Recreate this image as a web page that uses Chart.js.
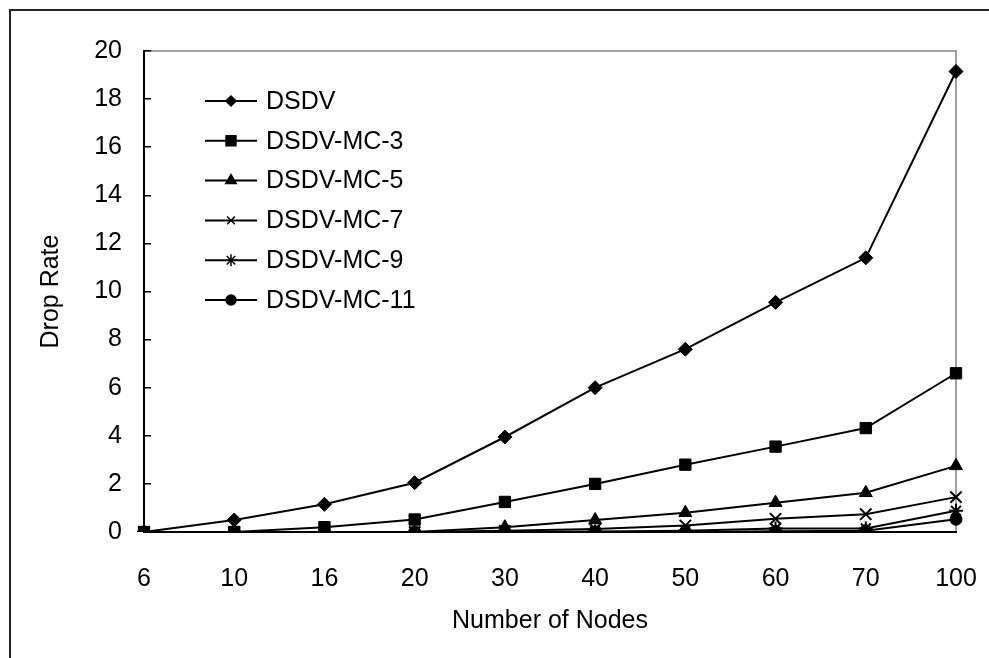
<!DOCTYPE html>
<html>
<head>
<meta charset="utf-8">
<script src="https://cdn.jsdelivr.net/npm/chart.js@4.4.0/dist/chart.umd.min.js"></script>
<style>
  html, body { margin: 0; padding: 0; background: #fff; overflow: hidden; }
  #rahmen { position: absolute; left: 9px; top: 9px; width: 2000px; height: 2000px; border-left: 2px solid #222; border-top: 2px solid #222; }
  #wrap { position: absolute; left: 0; top: 0; width: 989px; height: 658px; }
</style>
</head>
<body>
<div id="rahmen"></div>
<div id="wrap"><canvas id="grafiks"></canvas></div>
<script>
const mezgli = ['6', '10', '16', '20', '30', '40', '50', '60', '70', '100'];
const dsdv   = [0, 0.5, 1.15, 2.05, 3.95, 6.0, 7.6, 9.55, 11.4, 19.15];
const mc3    = [0, 0, 0.2, 0.52, 1.25, 2.0, 2.8, 3.55, 4.32, 6.6];
const mc5    = [0, 0, 0, 0, 0.2, 0.5, 0.8, 1.22, 1.63, 2.75];
const mc7    = [0, 0, 0, 0, 0.05, 0.12, 0.27, 0.55, 0.74, 1.45];
const mc9    = [0, 0, 0, 0, 0, 0.02, 0.05, 0.15, 0.15, 0.88];
const mc11   = [0, 0, 0, 0, 0, 0, 0, 0.03, 0.05, 0.53];
const yTicks = [0, 2, 4, 6, 8, 10, 12, 14, 16, 18, 20];

const nosaukumi = ['DSDV', 'DSDV-MC-3', 'DSDV-MC-5', 'DSDV-MC-7', 'DSDV-MC-9', 'DSDV-MC-11'];
const stili = ['rectRot', 'rect', 'triangle', 'crossRot', 'star', 'circle'];
const radiusi = [7, 8, 7.5, 8, 7, 6];
const legRadiusi = [5, 7, 6, 5.5, 6, 5];

Chart.defaults.font.family = '"Liberation Sans", Arial, sans-serif';
Chart.defaults.color = '#000';

// gray box around plot area (left/bottom get overdrawn by black axes)
const ramis = {
    id: 'ramis',
    beforeDraw(chart) {
        const {ctx, chartArea: a} = chart;
        ctx.save();
        ctx.strokeStyle = '#a0a0a0';
        ctx.lineWidth = 2;
        ctx.strokeRect(a.left, a.top, a.right - a.left, a.bottom - a.top);
        ctx.restore();
    }
};

// legend drawn inside the plot area, line + marker + text
const iekslegenda = {
    id: 'iekslegenda',
    afterDraw(chart) {
        const {ctx, chartArea: a} = chart;
        ctx.save();
        ctx.font = '25px "Liberation Sans", Arial, sans-serif';
        ctx.textBaseline = 'middle';
        chart.data.datasets.forEach((ds, i) => {
            const y = a.top + 50 + i * 39.8;
            const x0 = a.left + 61;
            ctx.strokeStyle = '#000';
            ctx.fillStyle = '#000';
            ctx.lineWidth = 2;
            ctx.beginPath(); ctx.moveTo(x0, y); ctx.lineTo(x0 + 52, y); ctx.stroke();
            ctx.lineWidth = 1.5;
            Chart.helpers.drawPoint(ctx, {pointStyle: ds.pointStyle, radius: legRadiusi[i], borderWidth: 1.5, rotation: 0}, x0 + 26, y);
            ctx.fillText(ds.label, x0 + 61, y + 1);
        });
        ctx.restore();
    }
};

const rindas = [dsdv, mc3, mc5, mc7, mc9, mc11];

new Chart(document.getElementById('grafiks').getContext('2d'), {
    type: 'line',
    data: {
        labels: mezgli,
        datasets: rindas.map((d, i) => ({
            label: nosaukumi[i],
            data: d,
            borderColor: '#000',
            backgroundColor: '#000',
            borderWidth: 2,
            pointStyle: stili[i],
            pointRadius: radiusi[i],
            pointBorderWidth: (stili[i] === 'crossRot' || stili[i] === 'star') ? 2 : 1,
            pointBackgroundColor: '#000',
            pointBorderColor: '#000',
            tension: 0
        }))
    },
    options: {
        responsive: true,
        maintainAspectRatio: false,
        animation: false,
        layout: {padding: {left: 10, top: 51, right: 33, bottom: 0}},
        plugins: {legend: {display: false}, tooltip: {enabled: false}},
        scales: {
            x: {
                grid: {display: true, drawOnChartArea: false, drawTicks: false},
                border: {color: '#000', width: 2},
                ticks: {padding: 32, font: {size: 25}, maxRotation: 0, autoSkip: false},
                title: {display: true, text: 'Number of Nodes', font: {size: 25}, padding: {top: 0, bottom: 22}},
                afterFit: s => { s.height = 126; s.paddingLeft = 0; s.paddingRight = 0; }
            },
            y: {
                min: 0, max: 20,
                afterBuildTicks: s => { s.ticks = yTicks.map(v => ({value: v})); },
                grid: {display: true, drawOnChartArea: false, drawTicks: true, tickLength: -7, color: '#000', lineWidth: 1.5},
                border: {color: '#000', width: 2},
                ticks: {padding: 29, font: {size: 25}},
                title: {display: true, text: 'Drop Rate', font: {size: 25}, padding: {top: 26, bottom: 0}},
                afterFit: s => { s.width = 134; s.paddingTop = 0; s.paddingBottom = 0; }
            }
        }
    },
    plugins: [ramis, iekslegenda]
});
</script>
</body>
</html>
